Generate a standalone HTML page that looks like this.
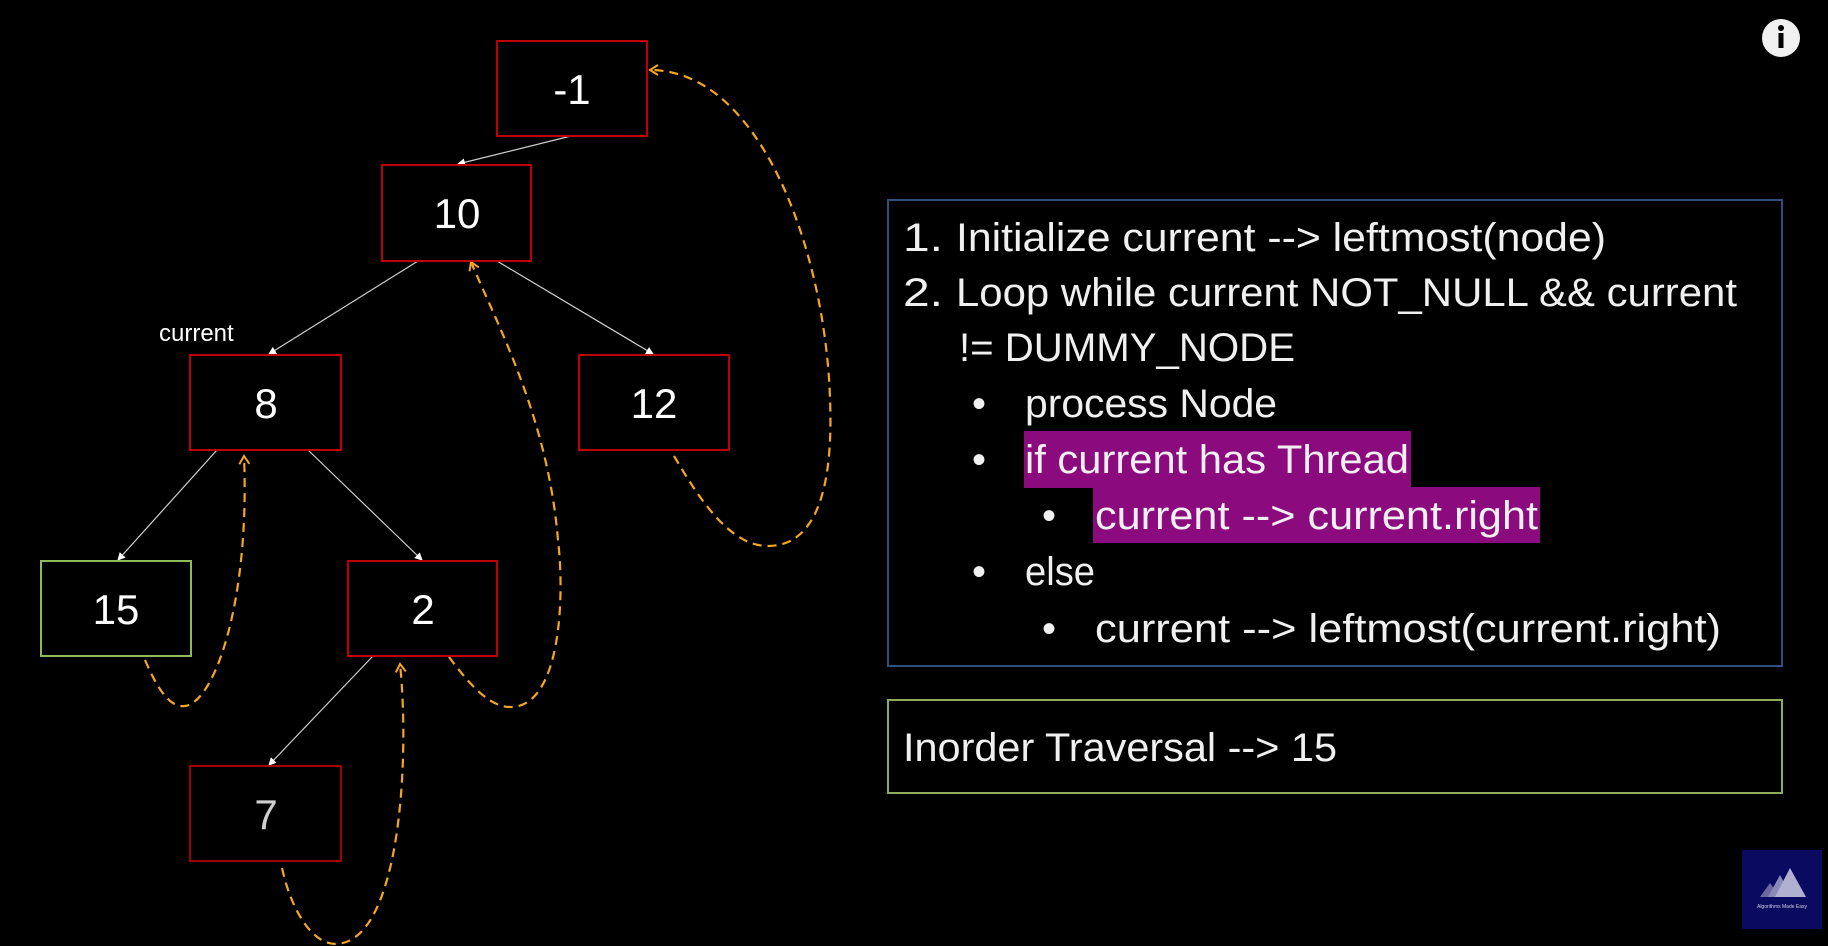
<!DOCTYPE html>
<html><head><meta charset="utf-8"><style>
html,body{margin:0;padding:0;background:#000;width:1828px;height:946px;overflow:hidden}
svg{display:block}
.n{font-family:"Liberation Sans",sans-serif;font-size:42px;fill:#fff;text-anchor:middle}
.t{font-family:"Liberation Sans",sans-serif;font-size:40px;fill:#f0f0f0}
</style></head><body>
<svg width="1828" height="946" viewBox="0 0 1828 946" xmlns="http://www.w3.org/2000/svg">
<defs>
<marker id="wa" markerWidth="8" markerHeight="8" refX="7" refY="4" orient="auto" markerUnits="userSpaceOnUse"><path d="M0,0 L8,4 L0,8 z" fill="#fff"/></marker>
<marker id="oa" markerWidth="12" markerHeight="12" refX="10" refY="6" orient="auto" markerUnits="userSpaceOnUse"><path d="M2,1 L10,6 L2,11" fill="none" stroke="#f5a623" stroke-width="2"/></marker>
</defs>
<g stroke="#cfcfcf" stroke-width="1.2" marker-end="url(#wa)">
<line x1="571" y1="136" x2="458" y2="164"/>
<line x1="418" y1="261" x2="269" y2="354"/>
<line x1="497" y1="261" x2="653" y2="354"/>
<line x1="217" y1="450" x2="118" y2="560"/>
<line x1="308" y1="450" x2="422" y2="560"/>
<line x1="373" y1="656" x2="269" y2="765"/>
</g>
<g fill="none" stroke="#f5a623" stroke-width="2.2" stroke-dasharray="9,6" marker-end="url(#oa)">
<path d="M145,660 C158,690 170,708 185,706 C215,702 250,600 244,456"/>
<path d="M449,657 C470,685 490,708 512,707 C560,705 565,600 558,540 C548,420 500,330 471,262"/>
<path d="M282,868 C290,905 310,945 337,944 C400,940 410,760 400,664"/>
<path d="M674,456 C700,500 730,546 768,546 C830,546 832,450 830,398 C825,250 760,70 650,70"/>
</g>
<g fill="#000" stroke="#c00000" stroke-width="2">
<rect x="497" y="41" width="150" height="95"/>
<rect x="382" y="165" width="149" height="96"/>
<rect x="190" y="355" width="151" height="95"/>
<rect x="579" y="355" width="150" height="95"/>
<rect x="348" y="561" width="149" height="95"/>
<rect x="190" y="766" width="151" height="95" stroke="#a00000"/>
</g>
<rect x="41" y="561" width="150" height="95" fill="#000" stroke="#8fbc5a" stroke-width="2"/>
<text class="n" x="572" y="104">-1</text>
<text class="n" x="457" y="228">10</text>
<text class="n" x="266" y="418">8</text>
<text class="n" x="654" y="418">12</text>
<text class="n" x="116" y="624">15</text>
<text class="n" x="423" y="624">2</text>
<text class="n" x="266" y="829" style="fill:#cfcfcf">7</text>
<text x="159" y="341" style="font-family:'Liberation Sans',sans-serif;font-size:24px;fill:#fff">current</text>
<rect x="888" y="200" width="894" height="466" fill="none" stroke="#2f4f7f" stroke-width="2"/>
<rect x="1024" y="431" width="387" height="57" fill="#8b0a7e"/>
<rect x="1093" y="487" width="447" height="56" fill="#8b0a7e"/>
<g>
<text x="903" y="251" class="t" textLength="40" lengthAdjust="spacingAndGlyphs">1.</text><text x="956" y="251" class="t" textLength="650" lengthAdjust="spacingAndGlyphs">Initialize current --&gt; leftmost(node)</text>
<text x="903" y="306" class="t" textLength="40" lengthAdjust="spacingAndGlyphs">2.</text><text x="956" y="306" class="t" textLength="781" lengthAdjust="spacingAndGlyphs">Loop while current NOT_NULL &amp;&amp; current</text>
<text x="959" y="361" class="t" textLength="336" lengthAdjust="spacingAndGlyphs">!= DUMMY_NODE</text>
<text x="972" y="417" class="t">•</text><text x="1025" y="417" class="t" textLength="252" lengthAdjust="spacingAndGlyphs">process Node</text>
<text x="972" y="473" class="t">•</text><text x="1025" y="473" class="t" textLength="384" lengthAdjust="spacingAndGlyphs">if current has Thread</text>
<text x="1042" y="529" class="t">•</text><text x="1095" y="529" class="t" textLength="443" lengthAdjust="spacingAndGlyphs">current --&gt; current.right</text>
<text x="972" y="585" class="t">•</text><text x="1025" y="585" class="t" textLength="70" lengthAdjust="spacingAndGlyphs">else</text>
<text x="1042" y="642" class="t">•</text><text x="1095" y="642" class="t" textLength="626" lengthAdjust="spacingAndGlyphs">current --&gt; leftmost(current.right)</text>
</g>
<rect x="888" y="700" width="894" height="93" fill="none" stroke="#8fac5a" stroke-width="2"/>
<text x="903" y="761" class="t" textLength="434" lengthAdjust="spacingAndGlyphs">Inorder Traversal --&gt; 15</text>
<circle cx="1781" cy="38" r="19" fill="#f0f0f0"/>
<circle cx="1781" cy="28" r="3" fill="#000"/>
<rect x="1778.5" y="33" width="5" height="15" fill="#000"/>
<rect x="1742" y="850" width="80" height="79" fill="#0a0a60"/>
<polygon points="1760,897 1770,883 1780,897" fill="#6a6aa0"/>
<polygon points="1768,897 1780,875 1792,897" fill="#8a8ab8"/>
<polygon points="1775,897 1790,868 1806,897" fill="#b0b0d0"/>
<text x="1782" y="908" text-anchor="middle" style="font-family:'Liberation Sans',sans-serif;font-size:5px;fill:#ccd">Algorithms Made Easy</text>
</svg>
</body></html>
